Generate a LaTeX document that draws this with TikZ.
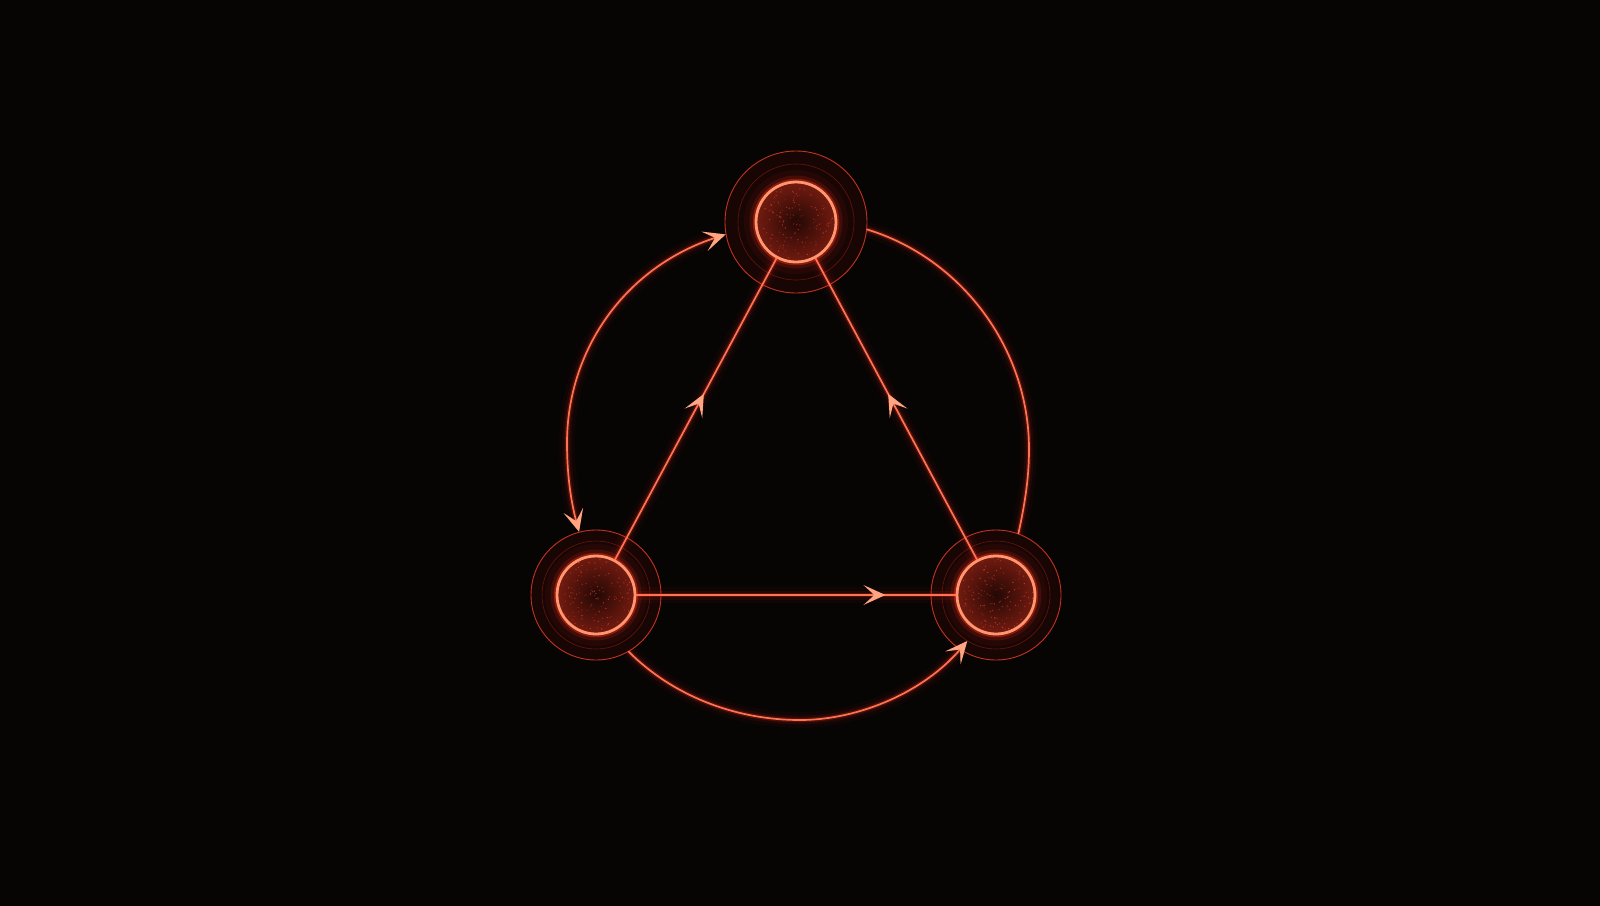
\documentclass[tikz,border=0pt]{standalone}
\usetikzlibrary{arrows.meta,decorations.markings}
\definecolor{bgcol}{RGB}{7,4,4}
\definecolor{glowred}{RGB}{255,45,25}
\definecolor{corecol}{RGB}{255,115,85}
\definecolor{tipcol}{RGB}{255,165,130}
\definecolor{rimcol}{RGB}{255,150,110}
\definecolor{discin}{RGB}{35,8,5}
\definecolor{discout}{RGB}{115,27,16}
\begin{document}
\begin{tikzpicture}[x=1pt,y=-1pt,
  glowline/.style={line cap=round, line join=round,
     preaction={draw=glowred, line width=16pt, draw opacity=0.035},
     preaction={draw=glowred, line width=9pt, draw opacity=0.08},
     preaction={draw=glowred, line width=4.5pt, draw opacity=0.22},
     draw=corecol, line width=1.7pt},
  arrowhead/.tip={Stealth[length=22pt,width=20pt,inset=11pt,fill=tipcol,color=tipcol]},
  midtip/.style={postaction={decorate}, decoration={markings,
     mark=at position #1 with {\arrow{arrowhead}}}},
  ringnode/.style={circle, minimum size=#1, inner sep=0pt, fill=glowred, fill opacity=0.07,
     draw=glowred!70!corecol, line width=0.9pt, draw opacity=0.75},
  midring/.style={circle, minimum size=#1, inner sep=0pt,
     draw=glowred, line width=0.6pt, draw opacity=0.35},
  disc/.style={circle, minimum size=80pt, inner sep=0pt,
     inner color=discin, outer color=discout,
     preaction={draw=glowred, line width=24pt, draw opacity=0.06},
     preaction={draw=glowred, line width=13pt, draw opacity=0.14},
     preaction={draw=glowred, line width=6.5pt, draw opacity=0.38},
     draw=rimcol, line width=2.8pt}
]
\useasboundingbox (0,0) rectangle (1600,905);
\begin{scope}
  \clip (0,0) rectangle (1600,905);
  \fill[bgcol] (-10,-10) rectangle (1610,915);
  \foreach \r in {180,220,...,620}{
    \fill[glowred, opacity=0.005] (796,440) circle (\r pt);
  }
\end{scope}

% outer rings
\node[ringnode=142pt] (Ao) at (796,222) {};
\node[ringnode=130pt] (Bo) at (596,595) {};
\node[ringnode=130pt] (Co) at (996,595) {};
\node[midring=116pt] (Am) at (796,222) {};
\node[midring=108pt] (Bm) at (596,595) {};
\node[midring=108pt] (Cm) at (996,595) {};

% discs
\node[disc] (Ai) at (796,222) {};
\node[disc, minimum size=78pt] (Bi) at (596,595) {};
\node[disc, minimum size=78pt] (Ci) at (996,595) {};

% speckles inside discs
\pgfmathsetseed{11}
\foreach \cx/\cy in {796/222, 596/595, 996/595}{
  \foreach \k in {1,...,140}{
    \pgfmathsetmacro{\ang}{rnd*360}
    \pgfmathsetmacro{\rad}{sqrt(rnd)*37}
    \pgfmathsetmacro{\op}{0.15+rnd*0.5}
    \fill[glowred!60!corecol, opacity=\op] ({\cx+\rad*cos(\ang)},{\cy+\rad*sin(\ang)}) circle (0.7pt);
  }
}

% straight edges
\draw[glowline, midtip=0.55] (Bi) -- (Ai);
\draw[glowline, midtip=0.55] (Ci) -- (Ai);
\draw[glowline, midtip=0.78] (Bi) -- (Ci);

% arcs
\coordinate (Lw) at (567,443);
\coordinate (Rw) at (1029,449);
\coordinate (Bw) at (800,720);
\draw[glowline, {arrowhead}-{arrowhead}] (Ao.190) .. controls (625,267) and (567,350) .. (Lw)
      .. controls (567,471) and (570,498) .. (Bo.105);
\draw[glowline] (Ao.-6) .. controls (961,258) and (1029,348) .. (Rw)
      .. controls (1029,474) and (1026,499) .. (Co.70);
\draw[glowline, -{arrowhead}] (Bo.-60) .. controls (672,695) and (734,720) .. (Bw)
      .. controls (859,720) and (924,692) .. (Cm.238);
\end{tikzpicture}
\end{document}
